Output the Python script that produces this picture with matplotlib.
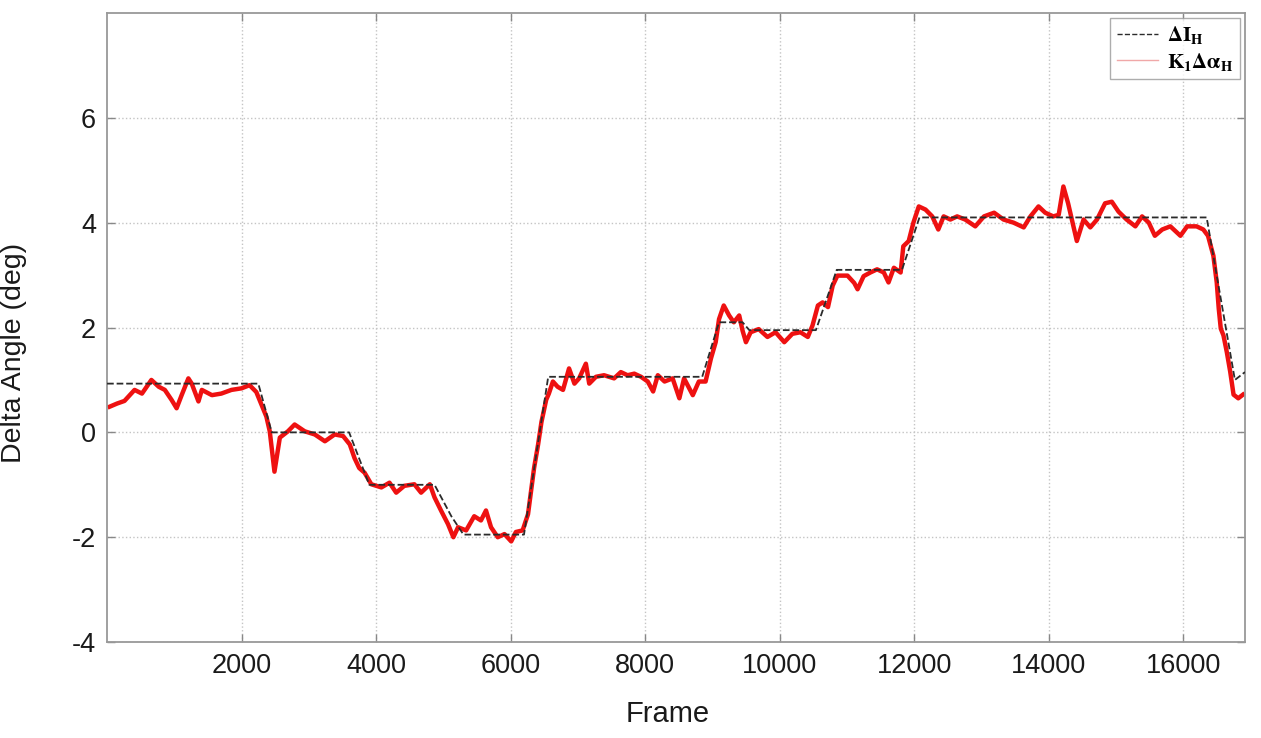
import matplotlib
matplotlib.use('Agg')
import matplotlib.pyplot as plt

# reference step (dashed) - breakpoints
ref_frames = [1, 2250, 2450, 3600, 3900, 4870, 5120, 5300, 6200, 6560, 8850, 9100,
              9450, 9550, 10540, 10850, 11820, 12080, 16350, 16770, 16920]
ref_values = [0.93, 0.93, 0.0, 0.0, -1.0, -1.0, -1.6, -1.95, -1.95, 1.06, 1.06, 2.1,
              2.1, 1.95, 1.95, 3.1, 3.1, 4.1, 4.1, 1.0, 1.15]

meas_frames = [40, 150, 260, 410, 520, 660, 770, 860, 960, 1035, 1110, 1210, 1260, 1360,
               1410, 1560, 1700, 1850, 2000, 2120, 2220, 2300, 2370, 2420, 2490, 2570, 2690,
               2790, 2940, 3090, 3240, 3385, 3510, 3610, 3680, 3750, 3830, 3930, 4080, 4200,
               4300, 4420, 4570, 4670, 4800, 4870, 4970, 5070, 5150, 5220, 5340, 5460, 5560,
               5635, 5710, 5810, 5910, 6010, 6080, 6180, 6260, 6305, 6350, 6410, 6460, 6530,
               6570, 6630, 6700, 6780, 6870, 6950, 7020, 7120, 7170, 7270, 7390, 7540, 7640,
               7740, 7840, 7940, 8040, 8120, 8190, 8290, 8410, 8510, 8580, 8710, 8800, 8900,
               8980, 9050, 9100, 9170, 9250, 9320, 9400, 9450, 9500, 9570, 9690, 9820, 9940,
               10070, 10190, 10310, 10420, 10490, 10570, 10640, 10720, 10790, 10860, 11010,
               11110, 11160, 11250, 11350, 11450, 11550, 11620, 11700, 11800, 11840, 11920,
               11990, 12070, 12170, 12270, 12360, 12440, 12540, 12640, 12760, 12910, 13040,
               13190, 13330, 13480, 13630, 13730, 13850, 13950, 14070, 14150, 14220, 14290,
               14370, 14420, 14520, 14620, 14720, 14840, 14940, 15040, 15160, 15290, 15390,
               15490, 15580, 15690, 15810, 15960, 16060, 16200, 16300, 16370, 16450, 16500,
               16530, 16560, 16600, 16650, 16700, 16750, 16820, 16890]
meas_values = [0.49, 0.55, 0.60, 0.81, 0.74, 1.0, 0.87, 0.81, 0.62, 0.46, 0.71, 1.03, 0.93, 0.59,
               0.81, 0.71, 0.74, 0.81, 0.84, 0.9, 0.77, 0.52, 0.30, 0.02, -0.75, -0.10, 0.02,
               0.15, 0.02, -0.04, -0.17, -0.04, -0.07, -0.23, -0.49, -0.68, -0.77, -0.99, -1.05, -0.96,
               -1.15, -1.02, -0.99, -1.15, -0.99, -1.24, -1.5, -1.75, -2.0, -1.81, -1.87, -1.6, -1.68,
               -1.49, -1.81, -2.0, -1.94, -2.08, -1.9, -1.87, -1.56, -1.12, -0.68, -0.23, 0.2, 0.62,
               0.74, 0.97, 0.87, 0.81, 1.22, 0.93, 1.03, 1.31, 0.93, 1.06, 1.09, 1.03, 1.15,
               1.09, 1.12, 1.06, 0.97, 0.78, 1.09, 0.97, 1.03, 0.65, 1.03, 0.71, 0.97, 0.97,
               1.41, 1.72, 2.16, 2.42, 2.23, 2.1, 2.23, 1.94, 1.72, 1.91, 1.97, 1.82, 1.91,
               1.72, 1.88, 1.91, 1.82, 2.04, 2.42, 2.48, 2.39, 2.8, 2.99, 2.99,
               2.85, 2.73, 2.98, 3.05, 3.11, 3.05, 2.86, 3.14, 3.05, 3.55, 3.65,
               4.0, 4.31, 4.25, 4.12, 3.87, 4.12, 4.06, 4.12, 4.06, 3.93, 4.12,
               4.19, 4.06, 4.0, 3.91, 4.12, 4.31, 4.19, 4.12, 4.15, 4.69, 4.37,
               3.93, 3.65, 4.06, 3.91, 4.06, 4.37, 4.4, 4.21, 4.06, 3.93, 4.12,
               4.0, 3.75, 3.87, 3.93, 3.75, 3.93, 3.93, 3.87, 3.75, 3.37, 2.86,
               2.36, 1.98, 1.85, 1.53, 1.16, 0.72, 0.65, 0.72]

xticks = [2000, 4000, 6000, 8000, 10000, 12000, 14000, 16000]
yticks = [-4, -2, 0, 2, 4, 6]

plt.rcParams['font.family'] = ['Liberation Sans', 'DejaVu Sans']
plt.rcParams['axes.unicode_minus'] = False
plt.rcParams['mathtext.fontset'] = 'stix'

fig = plt.figure(figsize=(12.61, 7.38), dpi=100)
ax = fig.add_axes([0.0849, 0.130, 0.9024, 0.8524])

ax.plot(ref_frames, ref_values, '--', color='#2b2b2b', lw=1.3, zorder=3,
        label=r'$\mathbf{\Delta I_H}$')
ax.plot(meas_frames, meas_values, '-', color='#ee1111', lw=3.2, zorder=2,
        label=r'$\mathbf{K_1\Delta\alpha_H}$')

ax.set_xlim(1, 16920)
ax.set_ylim(-4, 8)
ax.set_xticks(xticks)
ax.set_yticks(yticks)
ax.grid(True, color='#c4c4c4', linestyle=':', linewidth=1.0)
ax.tick_params(direction='in', length=6, width=1, colors='#888888',
               labelcolor='#1a1a1a', labelsize=19.5, top=True, right=True, pad=8)
for s in ax.spines.values():
    s.set_color('#999999')
    s.set_linewidth(1.3)

ax.set_xlabel('Frame', fontsize=21, color='#1a1a1a')
ax.set_ylabel('Delta Angle (deg)', fontsize=20.5, color='#1a1a1a')
ax.xaxis.set_label_coords(0.493, -0.092)
ax.yaxis.set_label_coords(-0.07, 0.46)

leg = ax.legend(loc='upper right', fontsize=15, frameon=True, fancybox=False,
                edgecolor='#999999', borderaxespad=0.25, handlelength=2.0,
                handletextpad=0.4, borderpad=0.3, labelspacing=0.2)
leg.get_frame().set_linewidth(1.0)
lines = leg.get_lines()
lines[1].set_color('#f0a8a8')
lines[1].set_linewidth(1.0)
lines[0].set_linewidth(1.0)

plt.savefig('out.png', dpi=100)
plt.close()
